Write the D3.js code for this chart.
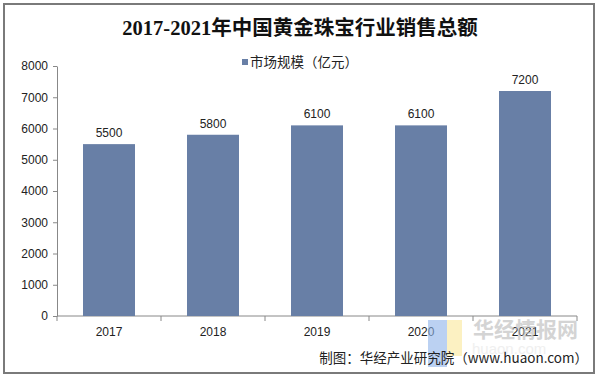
<!DOCTYPE html>
<html>
<head>
<meta charset="utf-8">
<script src="https://cdn.jsdelivr.net/npm/d3@7"></script>
<style>
    body { margin: 0; background: #fff; }
    svg { display: block; }
    .axis path, .axis line { stroke: #888; }
    .axis text { font-family: Arial, "Liberation Sans", sans-serif; font-size: 12px; fill: #222; }
</style>
</head>
<body>
<script>
const years = ['2017', '2018', '2019', '2020', '2021'];
const sales = [5500, 5800, 6100, 6100, 7200];
const yTicks = [0, 1000, 2000, 3000, 4000, 5000, 6000, 7000, 8000];

const width = 599, height = 378;
const margins = {top: 66, left: 57, right: 22, bottom: 62};

const svg = d3.select('body').append('svg')
    .attr('width', width)
    .attr('height', height);

// frame
svg.append('rect')
    .attr('x', 4).attr('y', 4)
    .attr('width', 590).attr('height', 369)
    .attr('fill', 'none')
    .attr('stroke', '#7a7a7a')
    .attr('stroke-width', 2);

const x = d3.scaleBand()
    .domain(years)
    .range([margins.left, width - margins.right])
    .paddingInner(0.5)
    .paddingOuter(0.25);

const y = d3.scaleLinear()
    .domain([0, 8000])
    .range([height - margins.bottom, margins.top]);

// title
svg.append('text')
    .attr('x', 300).attr('y', 35)
    .attr('text-anchor', 'middle')
    .style('font-family', '"Liberation Serif", "Noto Sans CJK SC", serif')
    .style('font-weight', 'bold')
    .style('font-size', '20.5px')
    .attr('fill', '#111')
    .text('2017-2021年中国黄金珠宝行业销售总额');

// legend
const legendG = svg.append('g').attr('transform', 'translate(242,62)');
legendG.append('rect')
    .attr('x', 0).attr('y', -3)
    .attr('width', 6).attr('height', 6)
    .attr('fill', '#687fa6');
legendG.append('text')
    .attr('x', 8).attr('y', 5)
    .style('font-family', '"Noto Sans CJK SC", sans-serif')
    .style('font-size', '13.5px')
    .attr('fill', '#222')
    .text('市场规模（亿元）');

// y axis
svg.append('g')
    .attr('class', 'axis')
    .attr('transform', 'translate(' + margins.left + ',0)')
    .call(d3.axisLeft(y).tickValues(yTicks).tickFormat(d3.format('d'))
        .tickSize(4).tickPadding(5).tickSizeOuter(0));

// x axis, ticks between categories
const xAxisG = svg.append('g')
    .attr('class', 'axis')
    .attr('transform', 'translate(0,' + y(0) + ')')
    .call(d3.axisBottom(x).tickSize(0).tickPadding(11));
xAxisG.select('.domain').attr('d', 'M' + margins.left + ',0H' + (width - margins.right));
const step = x.step();
xAxisG.selectAll('.sep')
    .data(d3.range(years.length + 1))
    .join('line')
    .attr('class', 'sep')
    .attr('x1', i => margins.left + i * step)
    .attr('x2', i => margins.left + i * step)
    .attr('y1', 0).attr('y2', 5)
    .attr('stroke', '#888');

// bars
svg.append('g')
    .selectAll('rect')
    .data(sales)
    .join('rect')
    .attr('x', (d, i) => x(years[i]))
    .attr('y', d => y(d))
    .attr('width', x.bandwidth())
    .attr('height', d => y(0) - y(d))
    .attr('fill', '#687fa6');

// value labels
svg.append('g')
    .selectAll('text')
    .data(sales)
    .join('text')
    .attr('x', (d, i) => x(years[i]) + x.bandwidth() / 2)
    .attr('y', d => y(d) - 7)
    .attr('text-anchor', 'middle')
    .style('font-family', 'Arial, "Liberation Sans", sans-serif')
    .style('font-size', '12px')
    .attr('fill', '#222')
    .text(d => d);

// watermark
const wm = svg.append('g').attr('opacity', 0.6);
wm.append('rect').attr('x', 428).attr('y', 320).attr('width', 19).attr('height', 47).attr('fill', '#8fb4ea');
wm.append('rect').attr('x', 447).attr('y', 320).attr('width', 15).attr('height', 36).attr('fill', '#fbe89a');
wm.append('text')
    .attr('x', 473).attr('y', 337)
    .style('font-family', '"Noto Sans CJK SC", sans-serif')
    .style('font-size', '21px')
    .style('font-weight', 'bold')
    .attr('fill', '#b8b8b8')
    .text('华经情报网');
wm.append('text')
    .attr('x', 472).attr('y', 354)
    .style('font-family', 'Arial, sans-serif')
    .style('font-size', '15px')
    .attr('fill', '#e6e6e6')
    .text('huaon.com');

// source
svg.append('text')
    .attr('x', 588).attr('y', 363)
    .attr('text-anchor', 'end')
    .style('font-family', '"Noto Sans CJK SC", sans-serif')
    .style('font-size', '13.5px')
    .attr('fill', '#222')
    .text('制图：华经产业研究院（www.huaon.com）');
</script>
</body>
</html>
